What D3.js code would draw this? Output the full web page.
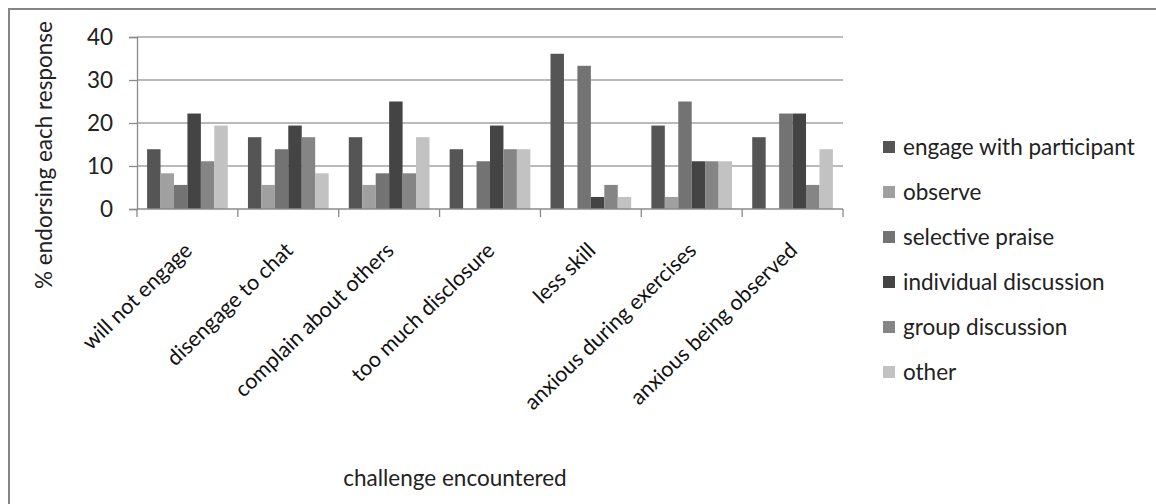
<!DOCTYPE html>
<html>
<head>
<meta charset="utf-8">
<script src="https://cdn.jsdelivr.net/npm/d3@7"></script>
<style>
  html, body { margin: 0; padding: 0; background: #fff; }
  svg { display: block; font-family: Lato, "Open Sans", sans-serif; }
</style>
</head>
<body>
<svg id="chart" width="1156" height="504"></svg>
<script>
const categories = ["will not engage", "disengage to chat", "complain about others", "too much disclosure", "less skill", "anxious during exercises", "anxious being observed"];
const seriesNames = ["engage with participant", "observe", "selective praise", "individual discussion", "group discussion", "other"];
const engageWithParticipant = [13.9, 16.7, 16.7, 13.9, 36.1, 19.4, 16.7];
const observe              = [8.3, 5.6, 5.6, 0, 0, 2.8, 0];
const selectivePraise      = [5.6, 13.9, 8.3, 11.1, 33.3, 25.0, 22.2];
const individualDiscussion = [22.2, 19.4, 25.0, 19.4, 2.8, 11.1, 22.2];
const groupDiscussion      = [11.1, 16.7, 8.3, 13.9, 5.6, 11.1, 5.6];
const other                = [19.4, 8.3, 16.7, 13.9, 2.8, 11.1, 13.9];
const yTicks = [0, 10, 20, 30, 40];
const colors = ["#555555", "#a0a0a0", "#737373", "#444444", "#858585", "#c2c2c2"];
const yTitle = "% endorsing each response";
const xTitle = "challenge encountered";

(function () {
const seriesValues = [engageWithParticipant, observe, selectivePraise, individualDiscussion, groupDiscussion, other];
const series = seriesNames.map((n, i) => ({ name: n, values: seriesValues[i], color: colors[i] }));

const svg = d3.select("#chart");
const pL = 137, pR = 843, pT = 37, pB = 209;
const fs = 22.5, fsCat = 21.5;

// frame
svg.append("rect").attr("x", 9).attr("y", 9).attr("width", 1160).attr("height", 510)
  .attr("fill", "none").attr("stroke", "#868686").attr("stroke-width", 2);

const x0 = d3.scaleBand().domain(categories).range([pL, pR]).paddingInner(0).paddingOuter(0);
const bw = x0.bandwidth() / 7.5;
const x1 = d3.scaleBand().domain(seriesNames).range([bw * 0.75, bw * 6.75]).padding(0);
const y = d3.scaleLinear().domain([0, 40]).range([pB, pT]);

// gridlines
svg.append("g").selectAll("line").data(yTicks.filter(t => t > 0)).join("line")
  .attr("x1", pL).attr("x2", pR)
  .attr("y1", d => y(d)).attr("y2", d => y(d))
  .attr("stroke", "#a3a3a3").attr("stroke-width", 1.3);

// bars
const g = svg.append("g");
series.forEach(s => {
  g.append("g").selectAll("rect").data(categories.map((c, i) => ({ c, v: s.values[i] }))).join("rect")
    .attr("x", d => x0(d.c) + x1(s.name))
    .attr("width", x1.bandwidth())
    .attr("y", d => y(d.v))
    .attr("height", d => y(0) - y(d.v))
    .attr("fill", s.color);
});

// y axis
const yAxis = d3.axisLeft(y).tickValues(yTicks).tickSize(8).tickPadding(16);
const ya = svg.append("g").attr("transform", `translate(${pL},0)`).call(yAxis);
ya.select(".domain").attr("stroke", "#8a8a8a").attr("stroke-width", 1.3);
ya.selectAll(".tick line").attr("stroke", "#8a8a8a").attr("stroke-width", 1.3);
ya.selectAll(".tick text").attr("font-size", fs).attr("fill", "#222").attr("font-family", "Lato");

// x axis line + boundary ticks
const boundaries = categories.map(c => x0(c)).concat([pR]);
svg.append("line").attr("x1", pL).attr("x2", pR).attr("y1", pB).attr("y2", pB)
  .attr("stroke", "#8a8a8a").attr("stroke-width", 1.3);
svg.append("g").selectAll("line").data(boundaries).join("line")
  .attr("x1", d => d).attr("x2", d => d).attr("y1", pB).attr("y2", pB + 8)
  .attr("stroke", "#8a8a8a").attr("stroke-width", 1.3);

// category labels
svg.append("g").selectAll("text").data(categories).join("text")
  .attr("transform", d => `translate(${x0(d) + x0.bandwidth() / 2 + 6},${pB + 43}) rotate(-44)`)
  .attr("text-anchor", "end")
  .attr("font-size", fsCat).attr("fill", "#111")
  .text(d => d);

// axis titles
svg.append("text").attr("transform", `translate(52,155) rotate(-90)`)
  .attr("text-anchor", "middle").attr("font-size", fs).attr("fill", "#222").text(yTitle);
svg.append("text").attr("x", 455).attr("y", 486)
  .attr("text-anchor", "middle").attr("font-size", fs).attr("fill", "#222").text(xTitle);

// legend
const lg = svg.append("g").selectAll("g").data(series).join("g")
  .attr("transform", (d, i) => `translate(883,${147 + i * 45})`);
lg.append("rect").attr("x", 0).attr("y", -6).attr("width", 12).attr("height", 12).attr("fill", d => d.color);
lg.append("text").attr("x", 20).attr("dy", "0.35em").attr("font-size", fs).attr("fill", "#222").text(d => d.name);
})();
</script>
</body>
</html>
